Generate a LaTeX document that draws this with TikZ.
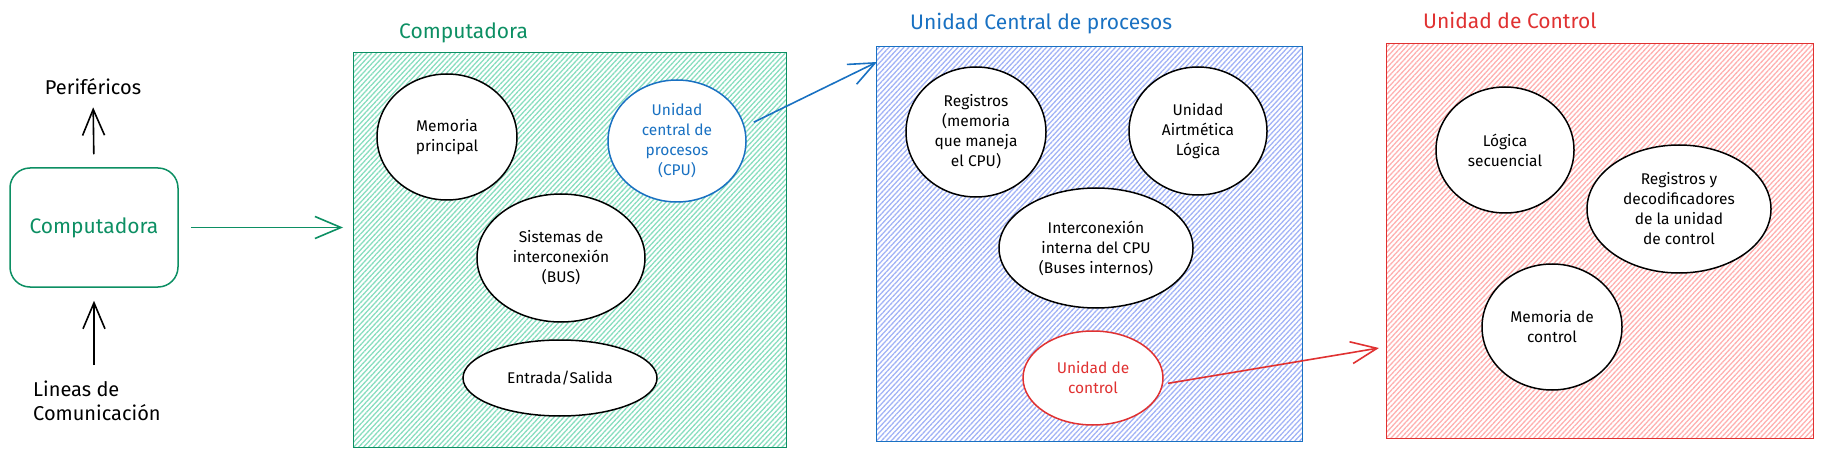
\documentclass[tikz,border=0pt]{standalone}
\usepackage{fontspec}
\setmainfont{Fira Sans}
\usetikzlibrary{shapes.geometric,arrows.meta,patterns.meta,positioning}
\definecolor{verde}{HTML}{0C8F63}
\definecolor{verdeclaro}{HTML}{88DEBF}
\definecolor{azulclaro}{HTML}{A2B3F6}
\definecolor{azul}{HTML}{1971C2}
\definecolor{rojo}{HTML}{E03131}
\definecolor{rojoclaro}{HTML}{FFB0B0}

\begin{document}
\begin{tikzpicture}[
    x=1pt, y=-1pt,
    texto/.style={font=\fontsize{20}{24}\selectfont, align=left, inner sep=0pt},
    titulo/.style={font=\fontsize{21}{24}\selectfont, anchor=west, inner sep=0pt},
    marco/.style={rectangle, draw=#1, line width=1.4pt, anchor=north west, inner sep=0pt},
    rayado/.style={pattern={Lines[angle=47, distance=3.6pt, line width=1.3pt]}, pattern color=#1},
    elipse/.style={ellipse, draw=black, fill=white, line width=1.5pt, inner sep=0pt, align=center, font=\fontsize{15.5}{20}\selectfont},
    flecha/.style={-{Straight Barb[length=26pt, width=22pt]}, line width=1.6pt}
]
\useasboundingbox (0,0) rectangle (1826,457);

% Lado izquierdo
\node[draw=verde, rounded corners=20pt, line width=1.5pt, minimum width=168pt, minimum height=119pt,
      text=verde, font=\fontsize{21}{24}\selectfont] (pc) at (94,227.5) {Computadora};
\node[texto] (peri) at (93,87) {Periféricos};
\node[texto, anchor=north west] (lineas) at (33,381) {Lineas de\\Comunicación};

\draw[flecha, shorten <=13pt, shorten >=12pt] (pc.north) -- (peri.south);
\draw[flecha, shorten <=16pt, shorten >=13pt] (pc.south |- lineas.north) -- (pc.south);

% Computadora
\node[marco=verde, rayado=verdeclaro, minimum width=433pt, minimum height=395pt] (comp) at (353,52) {};
\node[titulo, text=verde] (compt) at (399,33) {Computadora};

\node[elipse, minimum width=140pt, minimum height=126pt] (mem) at (447,137) {Memoria\\principal};
\node[elipse, draw=azul, text=azul, minimum width=138pt, minimum height=122pt] (cpu) at (677,141) {Unidad\\central de\\procesos\\(CPU)};
\node[elipse, minimum width=168pt, minimum height=128pt] (bus) at (561,258) {Sistemas de\\interconexión\\(BUS)};
\node[elipse, minimum width=194pt, minimum height=76pt] (es) at (560,378) {Entrada/Salida};

\draw[flecha, verde, shorten <=12pt, shorten >=10pt] (pc.east) -- (pc.east -| comp.west);

% Unidad central de procesos
\node[marco=azul, rayado=azulclaro, minimum width=426pt, minimum height=395pt] (ucp) at (876,46) {};
\node[titulo, text=azul] (ucpt) at (910,24) {Unidad Central de procesos};

\node[elipse, minimum width=140pt, minimum height=130pt] (reg) at (976,132) {Registros\\(memoria\\que maneja\\el CPU)};
\node[elipse, minimum width=138pt, minimum height=128pt] (alu) at (1198,131) {Unidad\\Airtmética\\Lógica};
\node[elipse, minimum width=194pt, minimum height=120pt] (inter) at (1096,248) {Interconexión\\interna del CPU\\(Buses internos)};
\node[elipse, draw=rojo, text=rojo, minimum width=140pt, minimum height=94pt] (uc) at (1093,378) {Unidad de\\control};

\coordinate (cpuin) at (877,62);
\draw[flecha, azul, shorten <=10pt] (cpu.12) -- (cpuin);

% Unidad de control
\node[marco=rojo, rayado=rojoclaro, minimum width=427pt, minimum height=395pt] (ctrl) at (1386,43) {};
\node[titulo, text=rojo] (ctrlt) at (1423,20) {Unidad de Control};

\node[elipse, minimum width=138pt, minimum height=126pt] (seq) at (1505,150) {Lógica\\secuencial};
\node[elipse, minimum width=184pt, minimum height=128pt] (deco) at (1679,209) {Registros y\\decodificadores\\de la unidad\\de control};
\node[elipse, minimum width=140pt, minimum height=126pt] (memc) at (1552,327) {Memoria de\\control};

\coordinate (ucin) at (1379,348);
\draw[flecha, rojo, shorten <=5pt] (uc.-5) -- (ucin);
\end{tikzpicture}
\end{document}
